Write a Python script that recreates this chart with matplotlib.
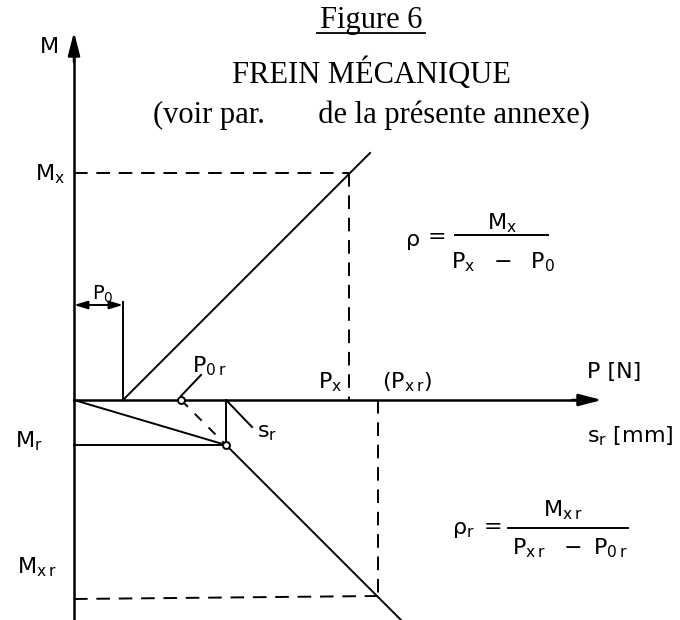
import matplotlib
matplotlib.use("Agg")
import matplotlib.pyplot as plt

plt.rcParams['font.family'] = ['DejaVu Sans']
plt.rcParams['mathtext.fontset'] = 'dejavusans'

# schematic values (arbitrary units, origin at the axes crossing)
P0 = 49          # idle travel P0
Px = 275
Mx = 227
P0r = 107
Pr = 152
Mr = -45
Pxr = 304
Mxr = -196

# the two characteristic lines
upper_P = [P0, 296]
upper_M = [0, 247]
lower_P = [Pr, 340]
lower_M = [Mr, -233]

# axis extents
P_end = 528
M_top = 368
M_bottom = -220

LW = 1.4
AX_LW = 1.8
DASH = (0, (7, 4.5))

fig = plt.figure(figsize=(6.8, 6.2), dpi=100)
ax = fig.add_axes([0, 0, 1, 1])
ax.set_xlim(-74, 606)
ax.set_ylim(-220, 400)
ax.axis('off')

# axes with arrows
ax.plot([0, 0], [M_bottom, M_top - 10], color='black', lw=AX_LW)
ax.plot([0, P_end - 10], [0, 0], color='black', lw=AX_LW)
arrow = dict(arrowstyle='-|>,head_length=14,head_width=3.6', mutation_scale=1,
             color='black', lw=AX_LW, shrinkA=0, shrinkB=0)
ax.annotate('', xy=(0, M_top), xytext=(0, M_top - 30), arrowprops=arrow)
ax.annotate('', xy=(P_end, 0), xytext=(P_end - 30, 0), arrowprops=arrow)

# upper branch (applied brake)
ax.plot([P0, P0], [0, 98], color='black', lw=LW)
ax.plot(upper_P, upper_M, color='black', lw=LW)
ax.plot([0, Px], [Mx, Mx], color='black', lw=LW, linestyle=DASH)
ax.plot([Px, Px], [Mx, 0], color='black', lw=LW, linestyle=DASH)
ax.annotate('', xy=(0, 95), xytext=(P0, 95),
            arrowprops=dict(arrowstyle='<|-|>,head_length=8,head_width=2.4',
                            mutation_scale=1, color='black', lw=LW,
                            shrinkA=0, shrinkB=0))

# lower branch (reverse)
ax.plot([0, Pr], [0, Mr], color='black', lw=LW)
ax.plot([0, Pr], [Mr, Mr], color='black', lw=LW)
ax.plot([Pr, Pr], [0, Mr], color='black', lw=LW)
ax.plot([P0r, Pr], [0, Mr], color='black', lw=LW, linestyle=(0, (5, 5)))
ax.plot(lower_P, lower_M, color='black', lw=LW)
ax.plot([0, Pxr], [Mxr - 3, Mxr], color='black', lw=LW, linestyle=DASH)
ax.plot([Pxr, Pxr], [0, Mxr], color='black', lw=LW, linestyle=DASH)
ax.plot([P0r, Pr], [0, Mr], 'o', ms=5, mfc='white', mec='black', mew=1.4)

# leader lines
ax.plot([107, 127], [4, 25], color='black', lw=LW)
ax.plot([154, 178], [-2, -27], color='black', lw=LW)

# titles
serif = 'Liberation Serif'
ax.text(297, 372, 'Figure 6', family=serif, fontsize=22, ha='center', va='baseline')
ax.plot([243, 351], [367, 367], color='black', lw=1.3)
ax.text(297, 317, 'FREIN MÉCANIQUE', family=serif, fontsize=22, ha='center', va='baseline')
ax.text(297, 277, '(voir par.       de la présente annexe)', family=serif,
        fontsize=22, ha='center', va='baseline')

# axis labels
fs = 16
ax.text(-34, 347, 'M', fontsize=fs, va='baseline')
ax.text(-39, 220, r'$\mathregular{M_x}$', fontsize=fs, va='baseline')
ax.text(-59, -47, r'$\mathregular{M_r}$', fontsize=fs, va='baseline')
ax.text(-57, -173, r'$\mathregular{M_{x\,r}}$', fontsize=fs, va='baseline')
ax.text(18, 100, r'$\mathregular{P_0}$', fontsize=14, va='baseline')
ax.text(118, 28, r'$\mathregular{P_{0\,r}}$', fontsize=fs, va='baseline')
ax.text(183, -37, r'$\mathregular{s_r}$', fontsize=fs, va='baseline')
ax.text(244, 12, r'$\mathregular{P_x}$', fontsize=fs, va='baseline')
ax.text(308, 12, r'$\mathregular{(P_{x\,r})}$', fontsize=fs, va='baseline')
ax.text(513, 22, 'P [N]', fontsize=fs, va='baseline')
ax.text(513, -42, r'$\mathregular{s_r}$ [mm]', fontsize=fs, va='baseline')

# formulas
ax.text(339, 160, 'ρ', fontsize=fs, ha='center', va='center')
ax.text(363, 163, '=', fontsize=fs, ha='center', va='center')
ax.plot([381, 474], [165, 165], color='black', lw=LW)
ax.text(428, 177, r'$\mathregular{M_x}$', fontsize=fs, ha='center', va='center')
ax.text(429, 138, r'$\mathregular{P_x\ \ -\ \ P_0}$', fontsize=fs, ha='center', va='center')

ax.text(389, -130, r'ρ$_\mathregular{r}$', fontsize=fs, ha='center', va='center')
ax.text(419, -127, '=', fontsize=fs, ha='center', va='center')
ax.plot([434, 554], [-128, -128], color='black', lw=LW)
ax.text(489, -110, r'$\mathregular{M_{x\,r}}$', fontsize=fs, ha='center', va='center')
ax.text(496, -148, r'$\mathregular{P_{x\,r}\ \ -\ P_{0\,r}}$', fontsize=fs, ha='center', va='center')

fig.savefig('out.png', dpi=100)
